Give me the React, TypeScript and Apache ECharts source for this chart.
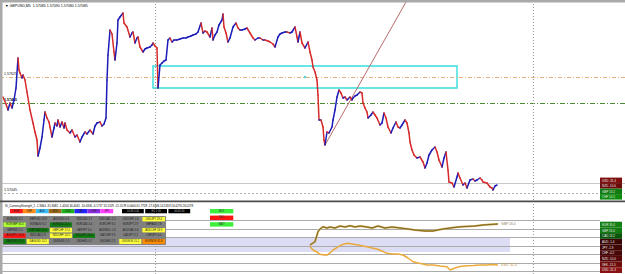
import React, { useEffect, useRef } from 'react';
import * as echarts from 'echarts';

// ---------- main price panel ----------
const priceX = [
  3, 6, 8, 10, 12, 14, 16, 18, 19, 20,
  22, 23, 25, 27, 30, 33, 35, 37, 38, 40,
  42, 44, 45, 47, 49, 50, 52, 54, 55, 57,
  58, 60, 62, 64, 65, 67, 70, 72, 75, 77,
  80, 82, 85, 87, 90, 93, 95, 97, 100, 102,
  104, 106, 107, 108, 110, 112, 114, 115, 117, 118,
  120, 123, 124, 127, 130, 132, 133, 135, 137, 138,
  140, 143, 145, 147, 150, 152, 153, 155, 157, 158,
  160, 162, 164, 166, 168, 170, 172, 174, 177, 180,
  183, 186, 188, 191, 193, 196, 198, 201, 203, 205,
  207, 210, 212, 213, 215, 217, 219, 222, 223, 224,
  226, 228, 230, 233, 236, 238, 240, 242, 245, 247,
  250, 253, 255, 258, 260, 263, 265, 268, 270, 273,
  275, 278, 280, 282, 285, 287, 290, 292, 295, 297,
  298, 300, 302, 305, 308, 310, 312, 313, 315, 317,
  318, 319, 321, 323, 324, 325, 327, 329, 332, 333,
  335, 337, 339, 341, 343, 345, 347, 350, 352, 353,
  355, 357, 360, 362, 363, 365, 367, 368, 371, 373,
  375, 377, 380, 382, 384, 386, 388, 391, 393, 396,
  398, 400, 402, 405, 407, 409, 410, 412, 414, 417,
  420, 423, 425, 427, 429, 432, 435, 437, 439, 442,
  444, 446, 448, 449, 452, 454, 457, 458, 460, 463,
  465, 467, 470, 473, 475, 477, 480, 482, 483, 487,
  490, 492, 493, 495, 497,
];
const priceClose = [
  1.57525, 1.5749, 1.5746, 1.57495, 1.5747, 1.5751, 1.5757, 1.5772, 1.5766, 1.57645,
  1.5762, 1.57635, 1.5761, 1.5755, 1.5746, 1.57395, 1.5735, 1.5731, 1.5723, 1.5727,
  1.57325, 1.5741, 1.5745, 1.5742, 1.574, 1.57375, 1.57325, 1.5737, 1.57395, 1.5738,
  1.5741, 1.57375, 1.574, 1.5737, 1.57395, 1.5736, 1.57345, 1.5736, 1.57325, 1.57335,
  1.573, 1.57325, 1.5735, 1.5734, 1.5736, 1.5734, 1.5738, 1.57395, 1.574, 1.5738,
  1.5739, 1.5742, 1.5761, 1.57735, 1.5786, 1.5784, 1.5775, 1.5771, 1.57795, 1.5791,
  1.57925, 1.57945, 1.57895, 1.57875, 1.57825, 1.57845, 1.5785, 1.57795, 1.5782, 1.57825,
  1.57775, 1.5775, 1.57765, 1.5777, 1.57775, 1.57785, 1.57795, 1.5778, 1.5777, 1.5757,
  1.57685, 1.57695, 1.57705, 1.5771, 1.5781, 1.5782, 1.578, 1.5781, 1.5781, 1.57815,
  1.5782, 1.5782, 1.57825, 1.5783, 1.57835, 1.5784, 1.5785, 1.57895, 1.57845, 1.57855,
  1.5785, 1.57825, 1.5787, 1.5781, 1.57835, 1.5785, 1.57885, 1.5791, 1.5794, 1.57875,
  1.57845, 1.578, 1.5782, 1.57875, 1.57895, 1.5787, 1.5786, 1.5786, 1.57865, 1.5787,
  1.57845, 1.5782, 1.5781, 1.5782, 1.5782, 1.5781, 1.5781, 1.57805, 1.578, 1.5779,
  1.57775, 1.57825, 1.5784, 1.57845, 1.5785, 1.5785, 1.57845, 1.5785, 1.57875, 1.57825,
  1.578, 1.5785, 1.57795, 1.5777, 1.578, 1.5775, 1.5771, 1.57675, 1.5765, 1.5761,
  1.57535, 1.5741, 1.5741, 1.57375, 1.5731, 1.57285, 1.5735, 1.57345, 1.57375, 1.5741,
  1.5746, 1.57525, 1.5756, 1.57545, 1.5752, 1.57525, 1.5751, 1.57525, 1.5751, 1.5752,
  1.5753, 1.57535, 1.5755, 1.57545, 1.57495, 1.5747, 1.5745, 1.5742, 1.57435, 1.5745,
  1.57435, 1.5742, 1.57385, 1.57395, 1.57445, 1.5742, 1.57375, 1.57345, 1.5737, 1.574,
  1.57375, 1.5737, 1.57385, 1.5741, 1.57395, 1.57345, 1.573, 1.5726, 1.57235, 1.5722,
  1.57225, 1.572, 1.5717, 1.57195, 1.57235, 1.5726, 1.57275, 1.5725, 1.5721, 1.57175,
  1.5722, 1.5725, 1.5716, 1.571, 1.57095, 1.57075, 1.57125, 1.57145, 1.5712, 1.57085,
  1.57095, 1.5707, 1.5711, 1.57115, 1.57105, 1.5711, 1.5712, 1.5711, 1.571, 1.57095,
  1.57075, 1.5707, 1.5706, 1.5708, 1.57085,
];

const levelOrange = 1.57625;
const levelGreen = 1.57495;
const levelGreySolid = 1.57095;
const levelGreyDotted = 1.57045;
const sessionLinesX = [155, 533];
const zoneX = [153, 457];
const zonePrice = [1.5768, 1.5757];
const trendStart = [325, 1.57285];
const trendEnd = [406, 1.58];
const markerPoint = [305, 1.57625];

// ---------- currency strength panel ----------
const upperX = [310, 313, 315, 318, 320, 323, 327, 330, 335, 340, 345, 350, 355, 360, 367, 372, 378, 385, 392, 400, 408, 415, 425, 433, 440, 450, 458, 465, 475, 483, 490, 498];
const upperV = [1.2, 3.5, 5.1, 16.8, 20, 22.7, 21.2, 22.4, 21.2, 23.5, 22.4, 23.9, 22.4, 23.5, 22.4, 21.2, 23.5, 21.2, 22.4, 21.2, 20, 18.8, 17.6, 17.6, 19.4, 21.2, 22.4, 22.9, 23.5, 24.7, 25.3, 25.9];
const lowerX = [310, 313, 317, 320, 324, 327, 330, 333, 337, 340, 344, 348, 352, 358, 363, 367, 372, 377, 382, 387, 393, 398, 403, 408, 413, 418, 423, 427, 433, 440, 447, 450, 455, 460, 467, 473, 480, 487, 493, 498];
const lowerV = [-0.8, -4.7, -7.1, -9.8, -10.6, -10.6, -8.2, -4.7, -1.8, 0.4, 2.4, 3.2, 2.4, 1.2, 0, -0.8, -2.4, -3.5, -5.9, -8.6, -9.4, -9.4, -10.6, -14.1, -18.5, -20, -21.2, -22.4, -22.4, -23.5, -24.4, -28.2, -25.9, -24.1, -23.2, -22.9, -22.4, -22.4, -21.8, -22.4];
const upperName = 'GBP 26.0';
const lowerName = 'USD -31.4';
const strengthLevels = [-30, -20, -10, 0, 10, 20, 30];
const bandTop = 9.4;
const bandBottom = -7.06;
const bandEndX = 510;

const indicatorTitle = 'IS_CurrencyStrength_1 -1.9464 -31.3682 -1.4204 30.4041 -10.0330 -4.1717 13.1529 -21.5178 0.0000 61.7728 -17.4046 14.5359 24.4276 26.0278';
const chartTitle = '\u25BC GBPUSD,M5  1.57085 1.57090 1.57080 1.57085';

const sideMainLabels = ['USD -31.4', 'NZD -10.0', 'GBP 13.2', 'CHF 14.5'];
const sideMainColors = ['#7d0e0e', '#6b0a0a', '#127a12', '#0e8a0e'];
const sideIndLabels = ['EUR 30.4', 'GBP 26.0', 'CAD 13.2', 'AUD -1.4', 'JPY -1.9', 'CHF -4.2', 'NZD -10.0', 'SEK -21.5', 'USD -31.4'];
const sideIndColors = ['#128012', '#117a11', '#0a550a', '#3a0606', '#400707', '#480808', '#530909', '#6e0b0b', '#8a1212'];

const swatchNames = ['EUR', 'GBP', 'AUD', 'NZD', 'USD', 'CAD', 'CHF', 'JPY'];
const swatchColors = ['#ff1a1a', '#ff8c1a', '#38bdf8', '#9a6a1a', '#1fb31f', '#2424ff', '#8a2be2', '#ff40ff'];
const blackBoxTexts = ['10:08 0:00', 'H1 1:16', '00:00:30'];
const signalTexts = ['BUY', 'SELL', 'WAIT'];
const signalColors = ['#3bef3b', '#ff1414', '#3bef3b'];

const tableCols = ['c1', 'c2', 'c3', 'c4', 'c5', 'c6', 'c7'];
const tableRows = ['r1', 'r2', 'r3', 'r4', 'r5'];
const tablePalette = ['#808080', '#ffff3c', '#adff2f', '#137a13', '#ff1414', '#ff8c00'];
const tableCodes = [
  [0, 0, 0, 0, 0, 0, 1],
  [2, 0, 3, 0, 0, 0, 0],
  [0, 3, 1, 0, 0, 0, 1],
  [4, 0, 1, 3, 0, 0, 0],
  [3, 1, 0, 0, 0, 1, 5],
];
const tableLabels = [
  ['EURUSD 8.1', 'GBPUSD 13.9', 'AUDUSD 4.6', 'NZDUSD 3.7', 'USDCAD -2.1', 'USDCHF 1.6', 'USDJPY 19.4'],
  ['EURGBP 30.4', 'EURAUD 6.2', 'EURNZD 21.5', 'EURCAD 4.4', 'EURCHF 3.0', 'EURJPY 2.9', 'GBPAUD 7.8'],
  ['GBPNZD 5.1', 'GBPCAD 24.4', 'GBPCHF 17.4', 'GBPJPY 6.0', 'AUDNZD -1.4', 'AUDCAD 0.0', 'AUDCHF 18.9'],
  ['AUDJPY -10.0', 'NZDCAD 1.9', 'NZDCHF 14.5', 'NZDJPY 26.0', 'CADCHF 3.3', 'CADJPY 2.2', 'CHFJPY 4.0'],
  ['XAUUSD 31.4', 'XAGUSD 13.2', 'USDSGD 1.0', 'USDHKD 0.2', 'USDSEK 2.5', 'USDNOK 15.2', 'EURNOK 61.8'],
];

const UP = '#1c1cb8';
const DOWN = '#d62a2a';
const FONT = 'Liberation Sans';

function buildOption(): any {
  const segData = [];
  for (let i = 1; i < priceX.length; i++) {
    segData.push([priceX[i - 1], priceClose[i - 1], priceX[i], priceClose[i]]);
  }
  const heatData: any[] = [];
  tableCodes.forEach((row, r) => row.forEach((k, c) => heatData.push([c, r, k])));

  const smallLabel = (text: string, color = '#111', bold = false) => ({
    show: true, position: 'insideStartTop', formatter: text, fontSize: 3.6, color, distance: [4, 0.6], fontFamily: FONT,
    fontWeight: bold ? 'bold' : 'normal',
  });

  const graphic: any[] = [];
  graphic.push({ type: 'rect', z: 100, shape: { x: 0, y: 0, width: 625, height: 2.5 }, style: { fill: '#a9a9a9' } });
  graphic.push({ type: 'rect', z: 100, shape: { x: 0, y: 0, width: 2.5, height: 274 }, style: { fill: '#a9a9a9' } });
  graphic.push({ type: 'rect', z: 100, shape: { x: 0, y: 200.5, width: 625, height: 1.8 }, style: { fill: '#4d4d4d' } });
  graphic.push({ type: 'text', z: 100, x: 5, y: 6.3, style: { text: chartTitle, fontSize: 3.6, fill: '#000', fontFamily: FONT, verticalAlign: 'middle' } });
  graphic.push({ type: 'text', z: 100, x: 5, y: 205.6, style: { text: indicatorTitle, fontSize: 2.9, fill: '#000', fontFamily: FONT, verticalAlign: 'middle' } });
  swatchNames.forEach((n, i) => {
    const x = 10 + i * 12.9;
    graphic.push({ type: 'rect', z: 100, shape: { x, y: 209, width: 12.9, height: 4.3 }, style: { fill: swatchColors[i] } });
    graphic.push({ type: 'text', z: 101, x: x + 6.45, y: 211.2, style: { text: n, fontSize: 2.6, fill: '#222', fontFamily: FONT, align: 'center', verticalAlign: 'middle' } });
  });
  blackBoxTexts.forEach((t, i) => {
    const x = 122 + i * 23.2;
    graphic.push({ type: 'rect', z: 100, shape: { x, y: 209, width: 21.8, height: 4.3 }, style: { fill: '#000' } });
    graphic.push({ type: 'text', z: 101, x: x + 10.9, y: 211.2, style: { text: t, fontSize: 2.6, fill: '#bbb', fontFamily: FONT, align: 'center', verticalAlign: 'middle' } });
  });
  signalTexts.forEach((t, i) => {
    const y = 209 + i * 6.6;
    graphic.push({ type: 'rect', z: 100, shape: { x: 210, y, width: 23.3, height: 4.4 }, style: { fill: signalColors[i] } });
    graphic.push({ type: 'text', z: 101, x: 221.6, y: y + 2.2, style: { text: t, fontSize: 2.6, fill: '#333', fontFamily: FONT, align: 'center', verticalAlign: 'middle' } });
  });
  sideMainLabels.forEach((t, i) => {
    const y = 177.6 + i * 5.5;
    graphic.push({ type: 'rect', z: 100, shape: { x: 600, y, width: 22, height: 5.5 }, style: { fill: sideMainColors[i] } });
    graphic.push({ type: 'text', z: 101, x: 602, y: y + 2.75, style: { text: t, fontSize: 3, fill: '#e8e8e8', fontFamily: FONT, verticalAlign: 'middle' } });
  });
  sideIndLabels.forEach((t, i) => {
    const y = 221.7 + i * 5.7;
    graphic.push({ type: 'rect', z: 100, shape: { x: 600, y, width: 22, height: 5.7 }, style: { fill: sideIndColors[i] } });
    graphic.push({ type: 'text', z: 101, x: 602, y: y + 2.85, style: { text: t, fontSize: 3, fill: '#e8e8e8', fontFamily: FONT, verticalAlign: 'middle' } });
  });

  const vDotted = { type: [1, 2], color: '#9a9a9a', width: 1 };

  return {
    animation: false,
    backgroundColor: '#ffffff',
    textStyle: { fontFamily: FONT },
    grid: [
      { left: 0, top: 2, width: 625, height: 198 },
      { left: 0, top: 203, width: 600, height: 71 },
      { left: 3.3, top: 216.7, width: 162, height: 27.5, show: true, backgroundColor: '#808080', borderWidth: 0 },
    ],
    xAxis: [
      { type: 'value', gridIndex: 0, min: 0, max: 625, show: false },
      { type: 'value', gridIndex: 1, min: 0, max: 600, show: false },
      { type: 'category', gridIndex: 2, data: tableCols, show: false },
    ],
    yAxis: [
      { type: 'value', gridIndex: 0, min: 1.5701, max: 1.58, show: false },
      { type: 'value', gridIndex: 1, min: -32.94, max: 50.59, show: false },
      { type: 'category', gridIndex: 2, data: tableRows, inverse: true, show: false },
    ],
    visualMap: {
      type: 'piecewise', show: false, seriesIndex: 5, dimension: 2,
      pieces: tablePalette.map((c, i) => ({ value: i, color: c })),
    },
    graphic,
    series: [
      {
        type: 'custom', xAxisIndex: 0, yAxisIndex: 0, z: 3,
        data: segData,
        encode: { x: [0, 2], y: [1, 3] },
        renderItem: (_p: any, api: any) => {
          const a = api.coord([api.value(0), api.value(1)]);
          const b = api.coord([api.value(2), api.value(3)]);
          return {
            type: 'line',
            shape: { x1: a[0], y1: a[1], x2: b[0], y2: b[1] },
            style: { stroke: api.value(3) >= api.value(1) ? UP : DOWN, lineWidth: 1.5, lineCap: 'round' },
          };
        },
      },
      {
        type: 'scatter', xAxisIndex: 0, yAxisIndex: 0, z: 4,
        data: [markerPoint], symbolSize: 2.5, itemStyle: { color: '#22c8c8' },
        markArea: {
          silent: true, z: 1,
          itemStyle: { color: 'rgba(0,0,0,0)', borderColor: '#35dede', borderWidth: 1.4 },
          data: [[{ coord: [zoneX[0], zonePrice[0]] }, { coord: [zoneX[1], zonePrice[1]] }]],
        },
        markLine: {
          silent: true, symbol: ['none', 'none'], z: 2, precision: 5,
          label: { show: false },
          data: [
            { yAxis: levelOrange, lineStyle: { color: '#e2b27e', type: [4, 2, 1, 2], width: 1 }, label: smallLabel(levelOrange.toFixed(5)) },
            { yAxis: levelGreen, lineStyle: { color: '#4f8a32', type: [5, 2, 1, 2], width: 1 }, label: smallLabel(levelGreen.toFixed(5), '#000', true) },
            { yAxis: levelGreySolid, lineStyle: { color: '#c8c8c8', type: 'solid', width: 1 } },
            { yAxis: levelGreyDotted, lineStyle: { color: '#b0b0b0', type: [2, 2], width: 1 }, label: smallLabel(levelGreyDotted.toFixed(5)) },
            ...sessionLinesX.map((x) => ({ xAxis: x, lineStyle: vDotted })),
            [{ coord: trendStart, lineStyle: { color: '#b86b6b', type: 'solid', width: 1 } }, { coord: trendEnd }],
          ],
        },
      },
      {
        type: 'line', xAxisIndex: 1, yAxisIndex: 1, z: 3,
        data: upperX.map((x, i) => [x, upperV[i]]),
        showSymbol: false,
        lineStyle: { color: '#c9a646', width: 2 },
        itemStyle: { color: '#c9a646' },
        endLabel: { show: true, formatter: upperName, fontSize: 3.4, color: '#8a7b5a', distance: 3 },
        markArea: {
          silent: true, z: 0,
          itemStyle: { color: '#dcdcf5' },
          data: [[{ coord: [0, bandTop] }, { coord: [bandEndX, bandBottom] }]],
        },
        markLine: {
          silent: true, symbol: ['none', 'none'], z: 1, precision: 3,
          label: { show: false },
          data: [
            ...strengthLevels.map((v) => ({ yAxis: v, lineStyle: { color: '#ababab', type: 'solid', width: 1 } })),
            ...sessionLinesX.map((x) => ({ xAxis: x, lineStyle: vDotted })),
          ],
        },
      },
      {
        type: 'line', xAxisIndex: 1, yAxisIndex: 1, z: 4,
        data: upperX.map((x, i) => [x, upperV[i]]),
        showSymbol: false,
        lineStyle: { color: '#4c3d14', width: 0.6 },
      },
      {
        type: 'line', xAxisIndex: 1, yAxisIndex: 1, z: 3,
        data: lowerX.map((x, i) => [x, lowerV[i]]),
        showSymbol: false,
        lineStyle: { color: '#eba93a', width: 1.5 },
        itemStyle: { color: '#eba93a' },
        endLabel: { show: true, formatter: lowerName, fontSize: 3.4, color: '#c09040', distance: 3 },
      },
      {
        type: 'heatmap', xAxisIndex: 2, yAxisIndex: 2, z: 5,
        data: heatData,
        itemStyle: { borderColor: '#808080', borderWidth: 1 },
        label: {
          show: true, fontSize: 2.7, color: '#1a1a1a', fontFamily: FONT,
          formatter: (p: any) => tableLabels[p.value[1]][p.value[0]],
        },
      },
    ],
  };
}

export default function App() {
  const ref = useRef<HTMLDivElement>(null);
  useEffect(() => {
    const chart = echarts.init(ref.current as HTMLDivElement, null, { renderer: 'svg' });
    chart.setOption(buildOption());
    return () => chart.dispose();
  }, []);
  return (
    <div
      ref={ref}
      style={{ position: 'fixed', left: 0, top: 0, width: 625, height: 274, background: '#fff' }}
    />
  );
}
